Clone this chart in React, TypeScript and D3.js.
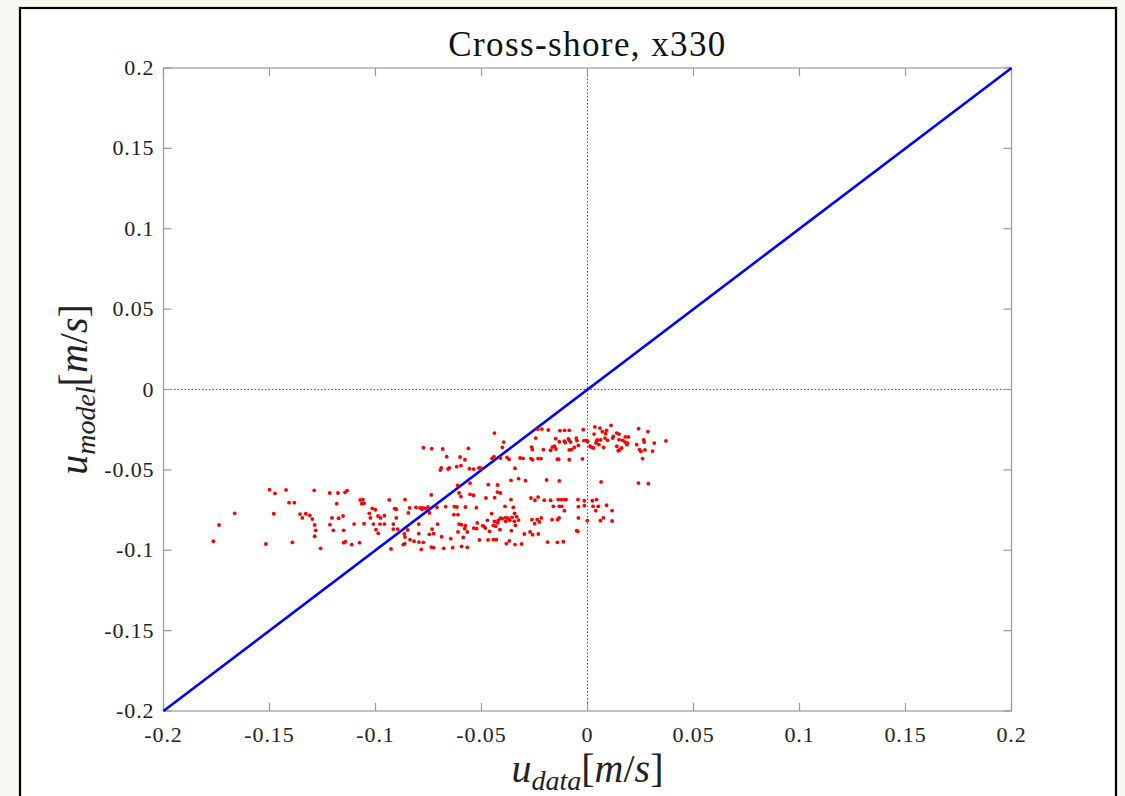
import React from "react";
import * as d3 from "d3";

// Figure text and axis setup
const titleText = "Cross-shore, x330";
const axisDomain: [number, number] = [-0.2, 0.2];
const xTickValues = [-0.2, -0.15, -0.1, -0.05, 0, 0.05, 0.1, 0.15, 0.2];
const yTickValues = [-0.2, -0.15, -0.1, -0.05, 0, 0.05, 0.1, 0.15, 0.2];

// 1:1 reference line (perfect agreement)
const identityLine: [number, number][] = [
  [-0.2, -0.2],
  [0.2, 0.2],
];

// Measured (u_data) vs modelled (u_model) cross-shore velocity, m/s
const samples: [number, number][] = [
  // offshore-most group
  [-0.150, -0.0623], [-0.1474, -0.0646], [-0.1422, -0.0625], [-0.1289, -0.0627],
  [-0.1216, -0.0644], [-0.1177, -0.0644], [-0.1144, -0.0640], [-0.1134, -0.0629],
  [-0.1408, -0.0704], [-0.1383, -0.0704], [-0.1183, -0.0710], [-0.1072, -0.0687],
  [-0.1059, -0.0685], [-0.1065, -0.0710], [-0.1054, -0.0708], [-0.1664, -0.0770],
  [-0.1480, -0.0773], [-0.1356, -0.0775], [-0.1329, -0.0773], [-0.1310, -0.0783],
  [-0.1345, -0.0799], [-0.1298, -0.0806], [-0.1205, -0.0799], [-0.1174, -0.0801],
  [-0.1153, -0.0787], [-0.1101, -0.0837], [-0.1054, -0.0835], [-0.1738, -0.0843],
  [-0.1287, -0.0843], [-0.1215, -0.0841], [-0.1282, -0.0876], [-0.1199, -0.0876],
  [-0.1150, -0.0876], [-0.1287, -0.0913], [-0.1765, -0.0944], [-0.1517, -0.0961],
  [-0.1392, -0.0951], [-0.1259, -0.0988], [-0.1150, -0.0953], [-0.1142, -0.0947],
  [-0.1112, -0.0965], [-0.1075, -0.0953],
  // central group
  [-0.0439, -0.0271], [-0.0395, -0.0327], [-0.0774, -0.0362], [-0.0735, -0.0368],
  [-0.0683, -0.0370], [-0.0562, -0.0366], [-0.0402, -0.0360], [-0.0664, -0.0418],
  [-0.0601, -0.0420], [-0.0578, -0.0437], [-0.0441, -0.0418], [-0.0450, -0.0428],
  [-0.0410, -0.0426], [-0.0380, -0.0422], [-0.0370, -0.0434], [-0.0597, -0.0474],
  [-0.0617, -0.0480], [-0.0690, -0.0488], [-0.0694, -0.0501], [-0.0658, -0.0495],
  [-0.0652, -0.0488], [-0.0557, -0.0493], [-0.0537, -0.0495], [-0.0512, -0.0488],
  [-0.0502, -0.0490], [-0.0342, -0.0490], [-0.0361, -0.0565], [-0.0325, -0.0555],
  [-0.0612, -0.0596], [-0.0554, -0.0582], [-0.0468, -0.0592], [-0.0424, -0.0594],
  [-0.0606, -0.0644], [-0.0597, -0.0667], [-0.0554, -0.0652], [-0.0538, -0.0658],
  [-0.0425, -0.0638], [-0.0411, -0.0644], [-0.0737, -0.0656], [-0.0479, -0.0675],
  [-0.0438, -0.0673], [-0.0361, -0.0685], [-0.0935, -0.0687], [-0.0861, -0.0685],
  [-0.1015, -0.0739], [-0.1001, -0.0748], [-0.0910, -0.0741], [-0.0902, -0.0745],
  [-0.0839, -0.0737], [-0.0809, -0.0733], [-0.0790, -0.0737], [-0.0778, -0.0737],
  [-0.0765, -0.0739], [-0.0752, -0.0731], [-0.0710, -0.0733], [-0.0669, -0.0729],
  [-0.0628, -0.0729], [-0.0616, -0.0731], [-0.0576, -0.0731], [-0.0524, -0.0735],
  [-0.0389, -0.0727], [-0.0350, -0.0733], [-0.1029, -0.0770], [-0.0988, -0.0787],
  [-0.0976, -0.0799], [-0.0958, -0.0785], [-0.1024, -0.0799], [-0.0902, -0.0799],
  [-0.0845, -0.0768], [-0.0745, -0.0768], [-0.0781, -0.0745], [-0.0630, -0.0779],
  [-0.0611, -0.0779], [-0.0452, -0.0772], [-0.0410, -0.0801], [-0.0386, -0.0797],
  [-0.0367, -0.0814], [-0.0356, -0.0795], [-0.0344, -0.0770], [-0.0334, -0.0791],
  [-0.1010, -0.0837], [-0.0979, -0.0837], [-0.0958, -0.0837], [-0.0916, -0.0837],
  [-0.0796, -0.0837], [-0.0707, -0.0837], [-0.0606, -0.0837], [-0.0595, -0.0841],
  [-0.0576, -0.0847], [-0.0520, -0.0830], [-0.0472, -0.0814], [-0.0439, -0.0820],
  [-0.0424, -0.0830], [-0.0421, -0.0814], [-0.0402, -0.0803], [-0.0386, -0.0820],
  [-0.0375, -0.0801], [-0.0345, -0.0820], [-0.0325, -0.0812], [-0.0998, -0.0872],
  [-0.0916, -0.0868], [-0.0895, -0.0868], [-0.0848, -0.0874], [-0.0733, -0.0868],
  [-0.0579, -0.0866], [-0.0537, -0.0862], [-0.0495, -0.0847], [-0.0487, -0.0853],
  [-0.0482, -0.0862], [-0.0523, -0.0866], [-0.0444, -0.0845], [-0.0433, -0.0851],
  [-0.0413, -0.0872], [-0.0340, -0.0845], [-0.0987, -0.0895], [-0.0864, -0.0899],
  [-0.0796, -0.0897], [-0.0726, -0.0897], [-0.0746, -0.0901], [-0.0611, -0.0886],
  [-0.0567, -0.0886], [-0.0462, -0.0882], [-0.0359, -0.0878], [-0.0861, -0.0918],
  [-0.0688, -0.0916], [-0.0586, -0.0920], [-0.0645, -0.0928], [-0.0837, -0.0934],
  [-0.0818, -0.0944], [-0.0795, -0.0949], [-0.0774, -0.0951], [-0.0869, -0.0965],
  [-0.0862, -0.0959], [-0.0510, -0.0936], [-0.0469, -0.0936], [-0.0444, -0.0934],
  [-0.0430, -0.0934], [-0.0383, -0.0959], [-0.0369, -0.0942], [-0.0342, -0.0965],
  [-0.0927, -0.0992], [-0.0784, -0.0994], [-0.0737, -0.0980], [-0.0726, -0.0984],
  [-0.0678, -0.0988], [-0.0636, -0.0984], [-0.0594, -0.0976], [-0.0567, -0.0982],
  // onshore-most group
  [0.0035, -0.0233], [0.0059, -0.0240], [0.0111, -0.0223], [0.0138, -0.0271],
  [0.0241, -0.0244], [0.0285, -0.0262], [-0.0235, -0.0246], [-0.0215, -0.0246],
  [-0.0185, -0.0252], [-0.0130, -0.0256], [-0.0108, -0.0254], [-0.0086, -0.0254],
  [-0.0020, -0.0250], [0.0031, -0.0277], [0.0070, -0.0262], [0.0090, -0.0254],
  [0.0086, -0.0275], [0.0122, -0.0291], [0.0149, -0.0277], [0.0178, -0.0295],
  [0.0193, -0.0295], [-0.0244, -0.0302], [-0.0150, -0.0306], [-0.0090, -0.0308],
  [-0.0086, -0.0316], [-0.0079, -0.0327], [-0.0053, -0.0302], [-0.0050, -0.0318],
  [-0.0017, -0.0318], [-0.0006, -0.0318], [0.0001, -0.0322], [0.0046, -0.0314],
  [0.0043, -0.0322], [0.0062, -0.0314], [0.0083, -0.0302], [0.0095, -0.0316],
  [0.0119, -0.0302], [0.0149, -0.0312], [0.0166, -0.0316], [0.0177, -0.0327],
  [0.0189, -0.0333], [0.0265, -0.0314], [0.0268, -0.0327], [0.0315, -0.0333],
  [0.0370, -0.0320], [0.0232, -0.0343], [-0.0105, -0.0331], [-0.0133, -0.0325],
  [-0.0109, -0.0322], [-0.0263, -0.0358], [-0.0260, -0.0374], [-0.0208, -0.0374],
  [-0.0174, -0.0378], [-0.0166, -0.0358], [-0.0156, -0.0353], [-0.0149, -0.0370],
  [-0.0086, -0.0376], [-0.0075, -0.0374], [-0.0062, -0.0360], [-0.0043, -0.0347],
  [0.0012, -0.0353], [0.0020, -0.0360], [0.0028, -0.0364], [0.0040, -0.0333],
  [0.0054, -0.0343], [0.0076, -0.0360], [0.0138, -0.0353], [0.0153, -0.0374],
  [0.0145, -0.0381], [0.0161, -0.0364], [0.0186, -0.0343], [0.0245, -0.0374],
  [0.0252, -0.0385], [0.0271, -0.0376], [0.0307, -0.0383], [-0.0318, -0.0426],
  [-0.0304, -0.0428], [-0.0267, -0.0430], [-0.0259, -0.0437], [-0.0233, -0.0430],
  [-0.0219, -0.0430], [-0.0142, -0.0434], [-0.0136, -0.0434], [-0.0086, -0.0437],
  [-0.0024, -0.0432], [0.0260, -0.0430], [-0.0292, -0.0567], [-0.0193, -0.0563],
  [-0.0133, -0.0569], [0.0064, -0.0575], [0.0240, -0.0582], [0.0287, -0.0586],
  [-0.0267, -0.0675], [-0.0248, -0.0689], [-0.0233, -0.0669], [-0.0204, -0.0689],
  [-0.0174, -0.0689], [-0.0138, -0.0685], [-0.0122, -0.0685], [-0.0109, -0.0685],
  [-0.0101, -0.0685], [-0.0045, -0.0685], [-0.0015, -0.0692], [0.0023, -0.0692],
  [0.0043, -0.0685], [-0.0161, -0.0727], [-0.0133, -0.0727], [-0.0122, -0.0727],
  [-0.0109, -0.0754], [-0.0043, -0.0729], [-0.0015, -0.0723], [0.0026, -0.0727],
  [0.0051, -0.0727], [0.0090, -0.0720], [0.0039, -0.0754], [0.0116, -0.0754],
  [-0.0262, -0.0810], [-0.0249, -0.0835], [-0.0237, -0.0810], [-0.0227, -0.0824],
  [-0.0218, -0.0799], [-0.0167, -0.0810], [-0.0141, -0.0810], [-0.0134, -0.0799],
  [-0.0043, -0.0799], [-0.0001, -0.0816], [0.0061, -0.0816], [0.0075, -0.0799],
  [0.0116, -0.0818], [-0.0298, -0.0899], [-0.0271, -0.0886], [-0.0259, -0.0903],
  [-0.0232, -0.0899], [-0.0051, -0.0878], [-0.0046, -0.0882], [-0.0311, -0.0961],
  [-0.0188, -0.0949], [-0.0142, -0.0951], [-0.0114, -0.0947],
];

const W = 1125;
const H = 796;
const plotLeft = 163.5;
const plotRight = 1011.5;
const plotTop = 68;
const plotBottom = 711;
const tickLen = 8;
const serif = "'Liberation Serif', 'DejaVu Serif', serif";
const axisGray = "#9a9a9a";

const fmt = (v: number) => (Math.abs(v) < 1e-12 ? "0" : String(v));

export default function App() {
  const x = d3.scaleLinear().domain(axisDomain).range([plotLeft, plotRight]);
  const y = d3.scaleLinear().domain(axisDomain).range([plotBottom, plotTop]);
  const linePath = d3
    .line<[number, number]>()
    .x((d) => x(d[0]))
    .y((d) => y(d[1]))(identityLine) as string;

  return (
    <svg
      width={W}
      height={H}
      viewBox={`0 0 ${W} ${H}`}
      style={{ position: "fixed", left: 0, top: 0, display: "block" }}
    >
      <rect x={0} y={0} width={W} height={H} fill="#f8f8f3" />
      <rect x={20} y={8} width={1096} height={820} fill="#ffffff" stroke="#000" strokeWidth={2.2} />

      {/* zero reference lines */}
      <line x1={x(0)} x2={x(0)} y1={plotTop} y2={plotBottom} stroke="#555" strokeWidth={1} strokeDasharray="1.5 2" />
      <line x1={plotLeft} x2={plotRight} y1={y(0)} y2={y(0)} stroke="#555" strokeWidth={1} strokeDasharray="1.5 2" />

      {/* axes box */}
      <rect
        x={plotLeft}
        y={plotTop}
        width={plotRight - plotLeft}
        height={plotBottom - plotTop}
        fill="none"
        stroke={axisGray}
        strokeWidth={1.2}
      />

      {/* inward ticks on all sides */}
      {xTickValues.map((v) => (
        <g key={`xt${v}`}>
          <line x1={x(v)} x2={x(v)} y1={plotBottom} y2={plotBottom - tickLen} stroke={axisGray} strokeWidth={1.2} />
          <line x1={x(v)} x2={x(v)} y1={plotTop} y2={plotTop + tickLen} stroke={axisGray} strokeWidth={1.2} />
          <text
            x={x(v)}
            y={plotBottom + 31}
            textAnchor="middle"
            fontFamily={serif}
            fontSize={22}
            letterSpacing={0.9}
            fill="#222"
          >
            {fmt(v)}
          </text>
        </g>
      ))}
      {yTickValues.map((v) => (
        <g key={`yt${v}`}>
          <line x1={plotLeft} x2={plotLeft + tickLen} y1={y(v)} y2={y(v)} stroke={axisGray} strokeWidth={1.2} />
          <line x1={plotRight} x2={plotRight - tickLen} y1={y(v)} y2={y(v)} stroke={axisGray} strokeWidth={1.2} />
          <text
            x={plotLeft - 9}
            y={y(v) + 7}
            textAnchor="end"
            fontFamily={serif}
            fontSize={22}
            letterSpacing={0.9}
            fill="#222"
          >
            {fmt(v)}
          </text>
        </g>
      ))}

      {/* 1:1 line */}
      <path d={linePath} fill="none" stroke="#0000ff" strokeWidth={2.6} />

      {/* samples */}
      {samples.map((d, i) => (
        <circle key={i} cx={x(d[0])} cy={y(d[1])} r={1.9} fill="#ff0000" />
      ))}

      {/* title */}
      <text
        x={(plotLeft + plotRight) / 2}
        y={56}
        textAnchor="middle"
        fontFamily={serif}
        fontSize={35}
        letterSpacing={1.4}
        fill="#111"
      >
        {titleText}
      </text>

      {/* x label */}
      <text x={(plotLeft + plotRight) / 2} y={782} textAnchor="middle" fontFamily={serif} fontSize={40} fill="#222">
        <tspan fontStyle="italic">u</tspan>
        <tspan fontStyle="italic" fontSize={28} dy={8}>data</tspan>
        <tspan dy={-8}>[</tspan>
        <tspan fontStyle="italic">m</tspan>
        <tspan>/</tspan>
        <tspan fontStyle="italic">s</tspan>
        <tspan>]</tspan>
      </text>

      {/* y label */}
      <text
        transform={`translate(87, ${(plotTop + plotBottom) / 2}) rotate(-90)`}
        textAnchor="middle"
        fontFamily={serif}
        fontSize={40}
        fill="#222"
      >
        <tspan fontStyle="italic">u</tspan>
        <tspan fontStyle="italic" fontSize={28} dy={8}>model</tspan>
        <tspan dy={-8}>[</tspan>
        <tspan fontStyle="italic">m</tspan>
        <tspan>/</tspan>
        <tspan fontStyle="italic">s</tspan>
        <tspan>]</tspan>
      </text>
    </svg>
  );
}
